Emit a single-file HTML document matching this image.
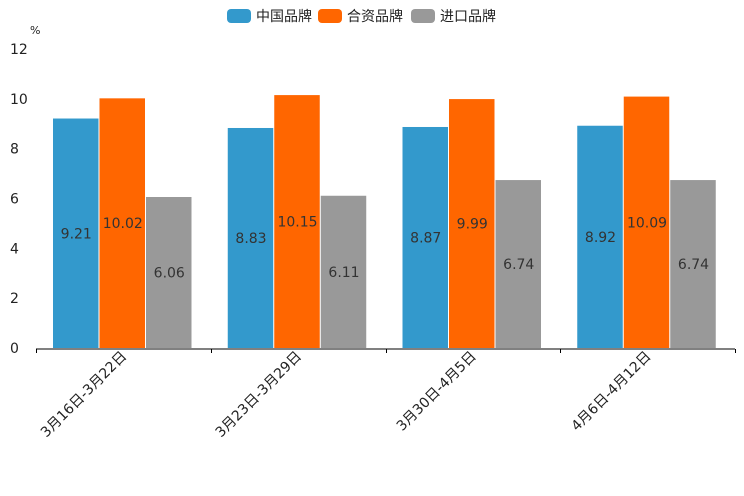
<!DOCTYPE html>
<html><head><meta charset="utf-8"><style>
body{margin:0;background:#fff;}
svg{display:block;font-family:"DejaVu Sans","Noto Sans CJK SC",sans-serif;}
</style></head><body>
<svg id="c" width="744" height="496"></svg>
<script>
const categories=["3月16日-3月22日","3月23日-3月29日","3月30日-4月5日","4月6日-4月12日"];
const seriesNames=["中国品牌","合资品牌","进口品牌"];
const chinaValues=[9.21,8.83,8.87,8.92];
const jvValues=[10.02,10.15,9.99,10.09];
const importValues=[6.06,6.11,6.74,6.74];
const yTicks=[0,2,4,6,8,10,12];
const colors=["#3399cc","#ff6600","#999999"];
const series=[chinaValues,jvValues,importValues];
const NS="http://www.w3.org/2000/svg";
const svg=document.getElementById('c');
const x0=36,x1=735,y0=348,yTop=49,yMax=12;
const gw=(x1-x0)/categories.length;
const y=v=>y0-(v/yMax)*(y0-yTop);
const bw=46.5,off=17;
function mk(t,a,p){const e=document.createElementNS(NS,t);for(const k in a)e.setAttribute(k,a[k]);(p||svg).appendChild(e);return e;}
yTicks.forEach(v=>{
 const t=mk('text',{x:10,y:y(v)+5,'font-size':14,fill:'#222'});t.textContent=v;
 
 
});
const u=mk('text',{x:30,y:34,'font-size':11,fill:'#222'});u.textContent='%';


categories.forEach((c,i)=>{
 series.forEach((s,j)=>{
  const bx=x0+i*gw+off+j*bw;
  const r=mk('rect',{x:bx,y:y(s[i]),width:bw-1,height:y0-y(s[i]),fill:colors[j]});
  
  
  const t=mk('text',{x:bx+bw/2,y:(y(s[i])+y0)/2+5,'font-size':14,fill:'#333','text-anchor':'middle'});
  t.textContent=s[i].toFixed(2);
  
  
 });
 const cx=x0+i*gw+gw/2+4;
 const l=mk('text',{x:cx,y:357,'font-size':14,fill:'#222','text-anchor':'end',transform:`rotate(-45 ${cx} 357)`});
 l.textContent=c;
 
 
});
const ax=mk('line',{x1:x0,x2:x1,y1:349,y2:349,stroke:'#000','stroke-width':1});


for(let i=0;i<=categories.length;i++){
 const tx=Math.round(x0+i*gw)+0.5;
 const tk=mk('line',{x1:tx,x2:tx,y1:349,y2:353,stroke:'#000'});
 
 
}
const lx=[227,318,411];
seriesNames.forEach((n,j)=>{
 const r=mk('rect',{x:lx[j],y:9,width:24,height:14,rx:4,fill:colors[j]});
 
 
 const t=mk('text',{x:lx[j]+29,y:21,'font-size':14,fill:'#222'});t.textContent=n;
 
 
});
</script>
</body></html>
